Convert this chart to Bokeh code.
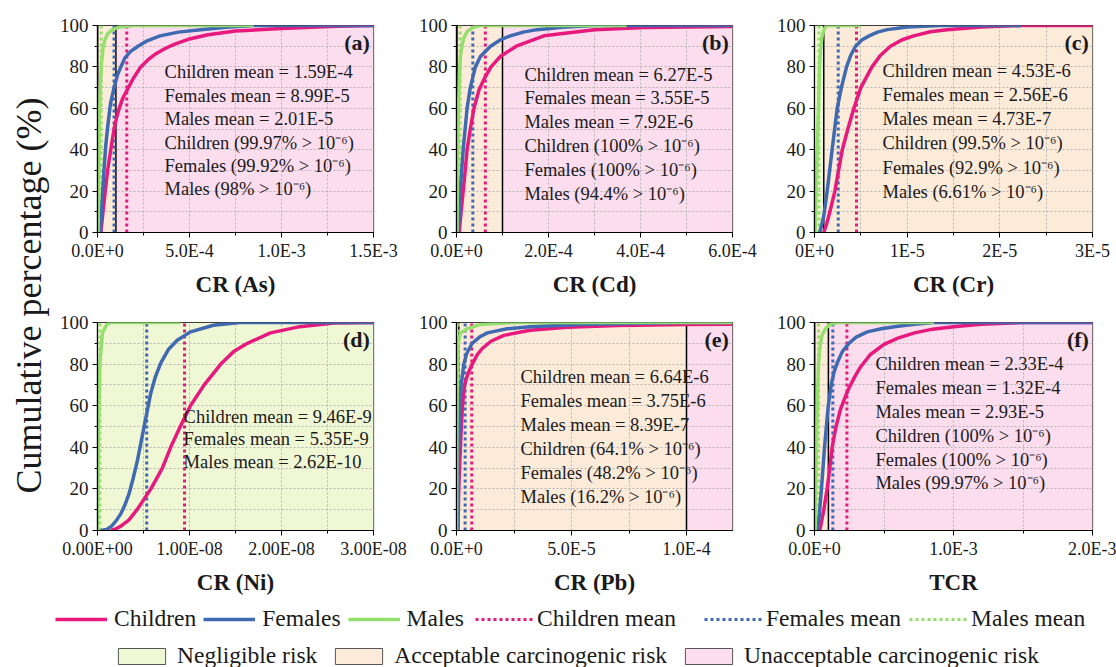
from bokeh.plotting import figure
from bokeh.models import Range1d, FixedTicker, LinearAxis, Span, Legend, LegendItem, Grid
from bokeh.layouts import row, column
from bokeh.embed import file_html
from bokeh.resources import INLINE
from bokeh.core.properties import value
import math

FONT = "Liberation Serif"
C_CHILD = "#E8197C"
C_FEM = "#3F69B0"
C_MALE = "#95DF6E"
C_NEG = "#F0F7D5"
C_ACC = "#FDEBDA"
C_UNA = "#FCDDEE"
TXT = "#1a1a1a"

# ---------------- data ----------------
series_names = ["Children", "Females", "Males"]
risk_labels = ["Negligible risk", "Acceptable carcinogenic risk", "Unacceptable carcinogenic risk"]
risk_left = [0.0, 1e-6, 1e-4]
risk_right = [1e-6, 1e-4, 1.0]
thresholds = [1e-6, 1e-4]
y_ticks = [0, 20, 40, 60, 80, 100]
y_minor = [10, 30, 50, 70, 90]

# (a) As
a_child_x = [1.8e-5, 2.4e-5, 3e-5, 4.2e-5, 5.5e-5, 7.2e-5, 9e-5, 1.05e-4, 1.18e-4, 1.38e-4, 1.59e-4, 1.95e-4, 2.35e-4, 2.75e-4, 3.2e-4, 3.7e-4, 4.2e-4, 5e-4, 6e-4, 7.5e-4, 1e-3, 1.3e-3, 1.5e-3]
a_child_y = [0, 5, 10, 20, 30, 40, 50, 56, 60, 65, 68.5, 74.5, 80, 83.5, 86.5, 89, 91, 93.5, 95.5, 97.3, 98.5, 99.6, 100]
a_fem_x = [1.5e-5, 2e-5, 2.5e-5, 3.5e-5, 4.5e-5, 5.4e-5, 7e-5, 9e-5, 1.08e-4, 1.27e-4, 1.5e-4, 1.8e-4, 2.2e-4, 2.7e-4, 3.4e-4, 4.4e-4, 5.6e-4, 7e-4, 8.5e-4, 1.5e-3]
a_fem_y = [0, 7, 15, 30, 42, 50, 62, 70, 76, 80, 84.5, 87.5, 90, 92.6, 95, 96.8, 98, 99.2, 100, 100]
a_male_x = [3e-6, 6e-6, 9e-6, 1.2e-5, 1.6e-5, 2.2e-5, 3e-5, 4e-5, 5.5e-5, 8e-5, 1.2e-4, 2e-4, 8.5e-4]
a_male_y = [0, 20, 45, 60, 72, 82, 89, 93, 96, 98, 99.3, 100, 100]
a_means = [1.59e-4, 8.99e-5, 2.01e-5]
a_ticks = [0, 5e-4, 1e-3, 1.5e-3]
a_minor = [2.5e-4, 7.5e-4, 1.25e-3]
a_tick_labels = ["0.0E+0", "5.0E-4", "1.0E-3", "1.5E-3"]
a_text = ["Children mean = 1.59E-4", "Females mean = 8.99E-5", "Males mean = 2.01E-5",
          "Children (99.97% > 10\u207b\u2076)", "Females (99.92% > 10\u207b\u2076)", "Males (98% > 10\u207b\u2076)"]

# (b) Cd
b_child_x = [5.8e-6, 1e-5, 1.45e-5, 1.9e-5, 2.3e-5, 3e-5, 3.8e-5, 4.9e-5, 6.2e-5, 7.5e-5, 9.5e-5, 1.3e-4, 1.9e-4, 3e-4, 4.1e-4, 6e-4]
b_child_y = [0, 10, 20, 30, 40, 50, 60, 69, 75, 80, 85, 90, 95, 98, 99, 99.5]
b_fem_x = [4e-6, 8e-6, 1.45e-5, 2.3e-5, 3e-5, 4.1e-5, 5.2e-5, 7.4e-5, 9.5e-5, 1.17e-4, 1.45e-4, 1.75e-4, 2.3e-4, 3e-4, 6e-4]
b_fem_y = [0, 20, 40, 60, 70, 80, 85, 90, 93, 95, 96.8, 98, 99.2, 100, 100]
b_male_x = [1e-6, 2e-6, 3.6e-6, 5e-6, 7e-6, 9e-6, 1.2e-5, 1.6e-5, 2.3e-5, 3.5e-5, 5.2e-5, 3.7e-4]
b_male_y = [0, 25, 50, 65, 80, 86, 90, 94, 97, 99, 100, 100]
b_means = [6.27e-5, 3.55e-5, 7.92e-6]
b_ticks = [0, 2e-4, 4e-4, 6e-4]
b_minor = [1e-4, 3e-4, 5e-4]
b_tick_labels = ["0.0E+0", "2.0E-4", "4.0E-4", "6.0E-4"]
b_text = ["Children mean = 6.27E-5", "Females mean = 3.55E-5", "Males mean = 7.92E-6",
          "Children (100% > 10\u207b\u2076)", "Females (100% > 10\u207b\u2076)", "Males (94.4% > 10\u207b\u2076)"]

# (c) Cr
c_child_x = [1e-6, 1.3e-6, 1.66e-6, 2.2e-6, 2.6e-6, 3e-6, 3.6e-6, 4.25e-6, 5e-6, 6.2e-6, 7.1e-6, 8.2e-6, 9.4e-6, 1.07e-5, 1.25e-5, 1.43e-5, 1.8e-5, 2.23e-5, 3e-5]
c_child_y = [0, 4, 10, 20, 30, 40, 50, 60, 70, 80, 85.5, 90, 93, 95, 97, 98, 99.3, 100, 100]
c_fem_x = [5.8e-7, 1e-6, 1.37e-6, 1.9e-6, 2.45e-6, 2.9e-6, 3.46e-6, 3.9e-6, 4.43e-6, 5.1e-6, 5.9e-6, 6.8e-6, 7.85e-6, 1e-5, 1.36e-5, 2.23e-5]
c_fem_y = [0, 8, 20, 40, 60, 70, 80, 85.5, 90, 93, 95, 96.8, 98, 99.3, 100, 100]
c_male_x = [7e-8, 2e-7, 3.6e-7, 4.5e-7, 5.4e-7, 6.6e-7, 8.3e-7, 1.05e-6, 1.37e-6, 5e-6]
c_male_y = [0, 25, 50, 65, 80, 89, 95, 98.5, 100, 100]
c_means = [4.53e-6, 2.56e-6, 4.73e-7]
c_ticks = [0, 1e-5, 2e-5, 3e-5]
c_minor = [5e-6, 1.5e-5, 2.5e-5]
c_tick_labels = ["0E+0", "1E-5", "2E-5", "3E-5"]
c_text = ["Children mean = 4.53E-6", "Females mean = 2.56E-6", "Males mean = 4.73E-7",
          "Children (99.5% > 10\u207b\u2076)", "Females (92.9% > 10\u207b\u2076)", "Males (6.61% > 10\u207b\u2076)"]

# (d) Ni
d_child_x = [1.45e-9, 2e-9, 2.5e-9, 3.4e-9, 4.3e-9, 5.8e-9, 7.05e-9, 7.95e-9, 9e-9, 1.01e-8, 1.16e-8, 1.34e-8, 1.48e-8, 1.63e-8, 1.88e-8, 2.2e-8, 2.57e-8, 3e-8]
d_child_y = [0, 0.8, 2, 5, 10, 20, 30, 40, 50, 60, 70, 80, 86, 90, 95, 98, 99.7, 100]
d_fem_x = [3.6e-10, 1e-9, 1.5e-9, 2e-9, 2.53e-9, 3e-9, 3.43e-9, 3.9e-9, 4.34e-9, 5.06e-9, 5.78e-9, 6.3e-9, 6.87e-9, 7.7e-9, 8.67e-9, 1.01e-8, 1.26e-8, 1.55e-8, 3e-8]
d_fem_y = [0, 0.5, 2, 4.5, 8, 12.5, 17.7, 25.5, 33.7, 49.8, 65.8, 74, 80.5, 87, 91.5, 95.5, 98.7, 100, 100]
d_male_x = [0, 5e-11, 1.1e-10, 2.5e-10, 5.4e-10, 1e-9, 1.45e-9, 9e-9]
d_male_y = [0, 20, 50, 80, 95, 99, 100, 100]
d_means = [9.46e-9, 5.35e-9, 2.62e-10]
d_ticks = [0, 1e-8, 2e-8, 3e-8]
d_minor = [5e-9, 1.5e-8, 2.5e-8]
d_tick_labels = ["0.00E+00", "1.00E-08", "2.00E-08", "3.00E-08"]
d_text = ["Children mean = 9.46E-9", "Females mean = 5.35E-9", "Males mean = 2.62E-10"]

# (e) Pb
e_child_x = [6e-7, 1e-6, 1.3e-6, 1.7e-6, 2.1e-6, 2.6e-6, 3.5e-6, 4.4e-6, 5.4e-6, 6.6e-6, 7.6e-6, 9e-6, 1.12e-5, 1.5e-5, 2.06e-5, 3.2e-5, 4.8e-5, 7e-5, 1e-4, 1.2e-4]
e_child_y = [0, 20, 30, 40, 50, 60, 70, 73.5, 76.5, 79.5, 81.5, 84.5, 87.5, 91, 93.8, 96.3, 97.7, 98.6, 99, 99.2]
e_fem_x = [4e-7, 8e-7, 1.2e-6, 2e-6, 3.2e-6, 4.4e-6, 6.8e-6, 1e-5, 1.34e-5, 2.2e-5, 3.2e-5, 5.4e-5, 9.8e-5, 1.2e-4]
e_fem_y = [0, 35, 50, 70, 80, 85, 90, 93, 95, 97, 98, 99, 100, 100]
e_male_x = [0, 1.5e-7, 4.4e-7, 7.3e-7, 1.7e-6, 4.7e-6, 1e-5, 2.5e-5, 1.2e-4]
e_male_y = [0, 50, 80, 90, 95, 97, 99, 100, 100]
e_means = [6.64e-6, 3.75e-6, 8.39e-7]
e_ticks = [0, 5e-5, 1e-4]
e_minor = [2.5e-5, 7.5e-5]
e_tick_labels = ["0.0E+0", "5.0E-5", "1.0E-4"]
e_text = ["Children mean = 6.64E-6", "Females mean = 3.75E-6", "Males mean = 8.39E-7",
          "Children (64.1% > 10\u207b\u2076)", "Females (48.2% > 10\u207b\u2076)", "Males (16.2% > 10\u207b\u2076)"]

# (f) TCR
f_child_x = [3.8e-5, 5e-5, 6.7e-5, 9.1e-5, 1.1e-4, 1.27e-4, 1.55e-4, 1.88e-4, 2.2e-4, 2.48e-4, 2.9e-4, 3.3e-4, 4e-4, 5e-4, 6e-4, 7.2e-4, 8.5e-4, 1e-3, 1.2e-3, 1.5e-3, 2e-3]
f_child_y = [0, 4, 10, 20, 30, 40, 50, 58.5, 64, 68.5, 74, 78.5, 84.5, 89.5, 92.5, 95, 96.8, 98, 99.2, 100, 100]
f_fem_x = [2.4e-5, 3.5e-5, 5e-5, 7.2e-5, 9.9e-5, 1.2e-4, 1.4e-4, 1.63e-4, 2e-4, 2.48e-4, 3e-4, 3.8e-4, 4.8e-4, 6e-4, 7.2e-4, 8.6e-4, 2e-3]
f_fem_y = [0, 8, 20, 40, 60, 70, 76, 80.5, 86, 90, 93, 95.5, 97, 98.2, 99.2, 100, 100]
f_male_x = [4e-6, 1e-5, 1.7e-5, 2.3e-5, 2.9e-5, 3.6e-5, 4.3e-5, 5.5e-5, 7.9e-5, 1.1e-4, 1.63e-4, 8.6e-4]
f_male_y = [0, 25, 50, 68, 80, 86, 90, 94, 97, 99, 100, 100]
f_means = [2.33e-4, 1.32e-4, 2.93e-5]
f_ticks = [0, 1e-3, 2e-3]
f_minor = [5e-4, 1.5e-3]
f_tick_labels = ["0.0E+0", "1.0E-3", "2.0E-3"]
f_text = ["Children mean = 2.33E-4", "Females mean = 1.32E-4", "Males mean = 2.93E-5",
          "Children (100% > 10\u207b\u2076)", "Females (100% > 10\u207b\u2076)", "Males (99.97% > 10\u207b\u2076)"]

panels = [
    dict(tag="(a)", title="CR (As)", xmax=1.5e-3, curves=[(a_child_x, a_child_y), (a_fem_x, a_fem_y), (a_male_x, a_male_y)],
         means=a_means, ticks=a_ticks, minor=a_minor, labels=a_tick_labels, text=a_text,
         tx=0.243, ty=77.3, tstep=11.3, w=356, bl=43, br=37),
    dict(tag="(b)", title="CR (Cd)", xmax=6e-4, curves=[(b_child_x, b_child_y), (b_fem_x, b_fem_y), (b_male_x, b_male_y)],
         means=b_means, ticks=b_ticks, minor=b_minor, labels=b_tick_labels, text=b_text,
         tx=0.246, ty=76.3, tstep=11.5, w=360, bl=46, br=38),
    dict(tag="(c)", title="CR (Cr)", xmax=3e-5, curves=[(c_child_x, c_child_y), (c_fem_x, c_fem_y), (c_male_x, c_male_y)],
         means=c_means, ticks=c_ticks, minor=c_minor, labels=c_tick_labels, text=c_text,
         tx=0.245, ty=77.8, tstep=11.6, w=346, bl=44, br=24),
    dict(tag="(d)", title="CR (Ni)", xmax=3e-8, curves=[(d_child_x, d_child_y), (d_fem_x, d_fem_y), (d_male_x, d_male_y)],
         means=d_means, ticks=d_ticks, minor=d_minor, labels=d_tick_labels, text=d_text,
         tx=0.312, ty=54.8, tstep=11.0, w=356, bl=43, br=37),
    dict(tag="(e)", title="CR (Pb)", xmax=1.2e-4, curves=[(e_child_x, e_child_y), (e_fem_x, e_fem_y), (e_male_x, e_male_y)],
         means=e_means, ticks=e_ticks, minor=e_minor, labels=e_tick_labels, text=e_text,
         tx=0.232, ty=73.7, tstep=11.5, w=360, bl=46, br=38),
    dict(tag="(f)", title="TCR", xmax=2e-3, curves=[(f_child_x, f_child_y), (f_fem_x, f_fem_y), (f_male_x, f_male_y)],
         means=f_means, ticks=f_ticks, minor=f_minor, labels=f_tick_labels, text=f_text,
         tx=0.219, ty=80.1, tstep=11.5, w=346, bl=44, br=24),
]

colors = [C_CHILD, C_FEM, C_MALE]
band_colors = [C_NEG, C_ACC, C_UNA]


def make_panel(cfg, top_row):
    h = 300 if top_row else 298
    bt = 25 if top_row else 22
    xmax = cfg["xmax"]
    p = figure(width=cfg["w"], height=h, x_range=Range1d(0, xmax), y_range=Range1d(0, 100),
               output_backend="svg", toolbar_location=None, x_axis_type=None, y_axis_type=None,
               min_border_left=cfg["bl"], min_border_right=cfg["br"], min_border_top=bt,
               min_border_bottom=68, background_fill_color="white")
    p.outline_line_color = "black"
    p.outline_line_width = 1.2

    xaxis = LinearAxis(ticker=FixedTicker(ticks=cfg["ticks"], minor_ticks=cfg["minor"]))
    xaxis.major_label_overrides = {t: l for t, l in zip(cfg["ticks"], cfg["labels"])}
    yaxis = LinearAxis(ticker=FixedTicker(ticks=y_ticks, minor_ticks=y_minor))
    for ax in (xaxis, yaxis):
        ax.axis_line_color = "black"
        ax.axis_line_width = 1.2
        ax.major_tick_line_color = "black"
        ax.minor_tick_line_color = "black"
        ax.major_tick_in = 0
        ax.major_tick_out = 5
        ax.minor_tick_in = 0
        ax.minor_tick_out = 3
        ax.major_label_text_font = FONT
        ax.major_label_text_color = TXT
    xaxis.major_label_text_font_size = "18px"
    yaxis.major_label_text_font_size = "19px"
    xaxis.major_label_standoff = 3
    yaxis.major_label_standoff = 4
    xaxis.axis_label = cfg["title"]
    xaxis.axis_label_text_font = FONT
    xaxis.axis_label_text_font_style = "bold"
    xaxis.axis_label_text_font_size = "23px"
    xaxis.axis_label_text_color = TXT
    xaxis.axis_label_standoff = 8
    p.add_layout(xaxis, "below")
    p.add_layout(yaxis, "left")

    for dim, ax in ((0, xaxis), (1, yaxis)):
        g = Grid(dimension=dim, ticker=ax.ticker)
        g.grid_line_color = "#b5b5b5"
        g.grid_line_dash = "2 2"
        g.grid_line_width = 1
        g.minor_grid_line_color = "#b5b5b5"
        g.minor_grid_line_dash = "2 2"
        g.minor_grid_line_width = 1
        p.add_layout(g)

    # risk bands
    p.quad(left=risk_left, right=risk_right, bottom=0, top=100, fill_color=band_colors,
           line_color=None, level="image")
    for t in thresholds:
        if 0 < t < xmax:
            p.add_layout(Span(location=t, dimension="height", line_color="black",
                              line_width=1.5, level="underlay"))

    # mean lines
    p.segment(x0=cfg["means"], y0=0, x1=cfg["means"], y1=100, line_color=colors,
              line_width=3, line_dash="3 3")
    # cumulative curves
    for (xs, ys), col in zip(cfg["curves"], colors):
        p.line(xs, ys, line_color=col, line_width=3.5, line_join="round")

    # annotation text
    n = len(cfg["text"])
    tx = [cfg["tx"] * xmax] * n
    ty = [cfg["ty"] - i * cfg["tstep"] for i in range(n)]
    p.text(x=tx, y=ty, text=cfg["text"], text_font=value(FONT), text_font_size="18.5px",
           text_color=TXT, text_baseline="middle", text_align="left")
    p.text(x=[xmax * 0.987], y=[91.8], text=[cfg["tag"]], text_font=value(FONT),
           text_font_size="22px", text_font_style="bold", text_color=TXT,
           text_baseline="middle", text_align="right")
    return p


figs = [make_panel(cfg, i < 3) for i, cfg in enumerate(panels)]

# y-axis title figure (1 data unit = 1 px)
yt = figure(width=54, height=598, x_range=Range1d(0, 54), y_range=Range1d(0, 598),
            output_backend="svg", toolbar_location=None, x_axis_type=None, y_axis_type=None,
            min_border=0)
yt.outline_line_color = None
yt.xgrid.visible = False
yt.ygrid.visible = False
yt.text(x=[28], y=[303], text=["Cumulative percentage (%)"], angle=math.pi / 2,
        text_font=value(FONT), text_font_size="36px", text_color=TXT,
        text_align="center", text_baseline="middle")

# legend figure
lg = figure(width=1116, height=69, x_range=Range1d(0, 1), y_range=Range1d(0, 1),
            output_backend="svg", toolbar_location=None, x_axis_type=None, y_axis_type=None,
            min_border=0)
lg.outline_line_color = None
lg.xgrid.visible = False
lg.ygrid.visible = False
nan = [float("nan")]
line_items = []
for name, col in zip(series_names, colors):
    r = lg.line(x=nan, y=nan, line_color=col, line_width=3.5)
    line_items.append(LegendItem(label=name, renderers=[r]))
mean_items = []
for name, col in zip(series_names, colors):
    r = lg.line(x=nan, y=nan, line_color=col, line_width=3, line_dash="3 3")
    mean_items.append(LegendItem(label=name + " mean", renderers=[r]))
box_items = []
for name, col in zip(risk_labels, band_colors):
    r = lg.quad(left=nan, right=nan, top=nan, bottom=nan, fill_color=col,
                line_color="#555555", line_width=1)
    box_items.append(LegendItem(label=name, renderers=[r]))

legend_specs = [
    (line_items, (55, 35), 52, 7, 7),
    (mean_items[:1], (475, 35), 60, 2, 7),
    (mean_items[1:], (704, 35), 60, 2, 8),
    (box_items, (112, -2), 59, 6, 12),
]
for items, loc, gw, so, sp in legend_specs:
    leg = Legend(items=items, location=loc, orientation="horizontal", border_line_color=None,
                 background_fill_alpha=0, padding=0, margin=0, spacing=sp, label_standoff=so,
                 glyph_width=gw, glyph_height=20, label_height=20,
                 label_text_font=FONT, label_text_font_size="23.5px", label_text_color=TXT)
    lg.add_layout(leg)

layout = column(row(yt, column(row(*figs[:3]), row(*figs[3:]))), lg)

with open("out.html", "w") as fh:
    fh.write(file_html(layout, INLINE))
